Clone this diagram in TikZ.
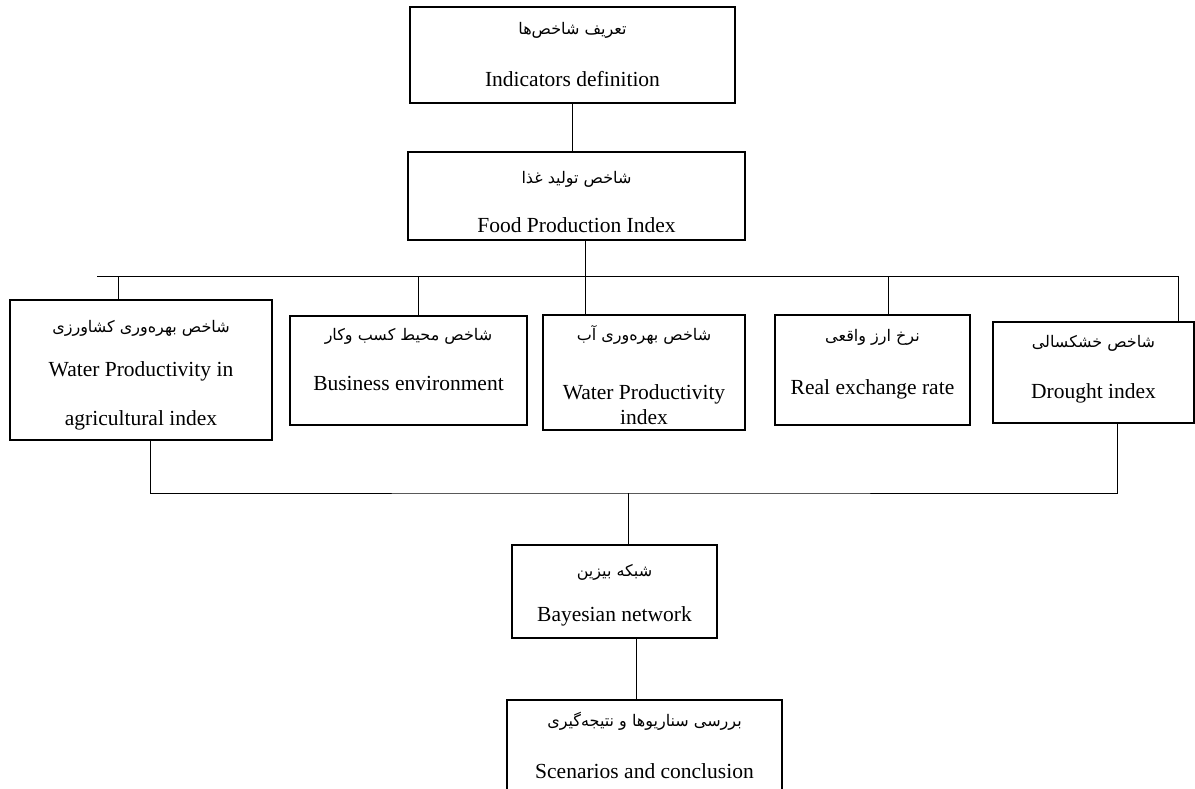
\documentclass[tikz,border=0pt]{standalone}
\usepackage{fontspec}
\setmainfont{Liberation Serif}
\newfontfamily\farsifont[Script=Arabic]{DejaVu Sans}
\TeXXeTstate=1
\newcommand{\fa}[1]{{\farsifont\fontsize{16}{18}\selectfont\beginR #1\endR}}
\tikzset{box/.style={draw, line width=1.3pt, align=center, inner sep=0pt,
    font=\fontsize{21.5}{25}\selectfont},
  wire/.style={line width=0.9pt}
}

\begin{document}
\begin{tikzpicture}[x=1pt,y=-1pt]
    \useasboundingbox (0,0) rectangle (1195,789);

    % Boxes
    \node[box,minimum width=325,minimum height=96] (def) at (572.5,55)
        {\fa{تعریف شاخص‌ها}\\[27pt] Indicators definition};
    \node[box,minimum width=337,minimum height=88] (food) at (576.5,196)
        {\rule{0pt}{24pt}\fa{شاخص تولید غذا}\\[24pt] Food Production Index};

    \node[box,minimum width=262,minimum height=140] (wpa) at (141,370)
        {\rule{0pt}{23pt}\fa{شاخص بهره‌وری کشاورزی}\\[19pt] Water Productivity in\\[24pt] agricultural index};
    \node[box,minimum width=237,minimum height=109] (bus) at (408.5,370.5)
        {\fa{شاخص محیط کسب وکار}\\[25pt] Business environment\\[-10pt]\strut};
    \node[box,minimum width=202,minimum height=115] (wpi) at (644,372.5)
        {\rule{0pt}{21pt}\fa{شاخص بهره‌وری آب}\\[34pt] Water Productivity\\ index};
    \node[box,minimum width=195,minimum height=110] (rer) at (872.5,370)
        {\fa{نرخ ارز واقعی}\\[28pt] Real exchange rate\rule[-16pt]{0pt}{0pt}};
    \node[box,minimum width=201,minimum height=101] (dro) at (1093.5,372.5)
        {\fa{شاخص خشکسالی}\\[26pt] Drought index\rule[-11pt]{0pt}{0pt}};

    \node[box,minimum width=205,minimum height=93] (bay) at (614.5,591.5)
        {\rule{0pt}{20pt}\fa{شبکه بیزین}\\[20pt] Bayesian network};
    \node[box,minimum width=275,minimum height=90] (scen) at (644.5,745)
        {\fa{بررسی سناریوها و نتیجه‌گیری}\\[27pt] Scenarios and conclusion};

    % Top tree
    \coordinate (busL) at (97,276);
    \coordinate (busR) at (1178,276);
    \draw[wire] (def.south) -- (def.south |- food.north);
    \draw[wire] (busL) -- (busR);
    \draw[wire] ([xshift=8.5pt]food.south) -- ([xshift=8.5pt]food.south |- wpi.north);
    \draw[wire] ([xshift=-23pt]wpa.north) -- ([xshift=-23pt]wpa.north |- busL);
    \draw[wire] ([xshift=9.5pt]bus.north) -- ([xshift=9.5pt]bus.north |- busL);
    \draw[wire] ([xshift=15.5pt]rer.north) -- ([xshift=15.5pt]rer.north |- busL);
    \draw[wire] ([xshift=84.5pt]dro.north) -- ([xshift=84.5pt]dro.north |- busL);

    % Bottom tree
    \coordinate (join) at (628,493);
    \draw[wire] ([xshift=9pt]wpa.south) |- (join) -| ([xshift=23.5pt]dro.south);
    \draw[wire] (join) -- (join |- bay.north);
    \draw[wire] ([xshift=21.5pt]bay.south) -- ([xshift=21.5pt]bay.south |- scen.north);
\end{tikzpicture}
\end{document}
